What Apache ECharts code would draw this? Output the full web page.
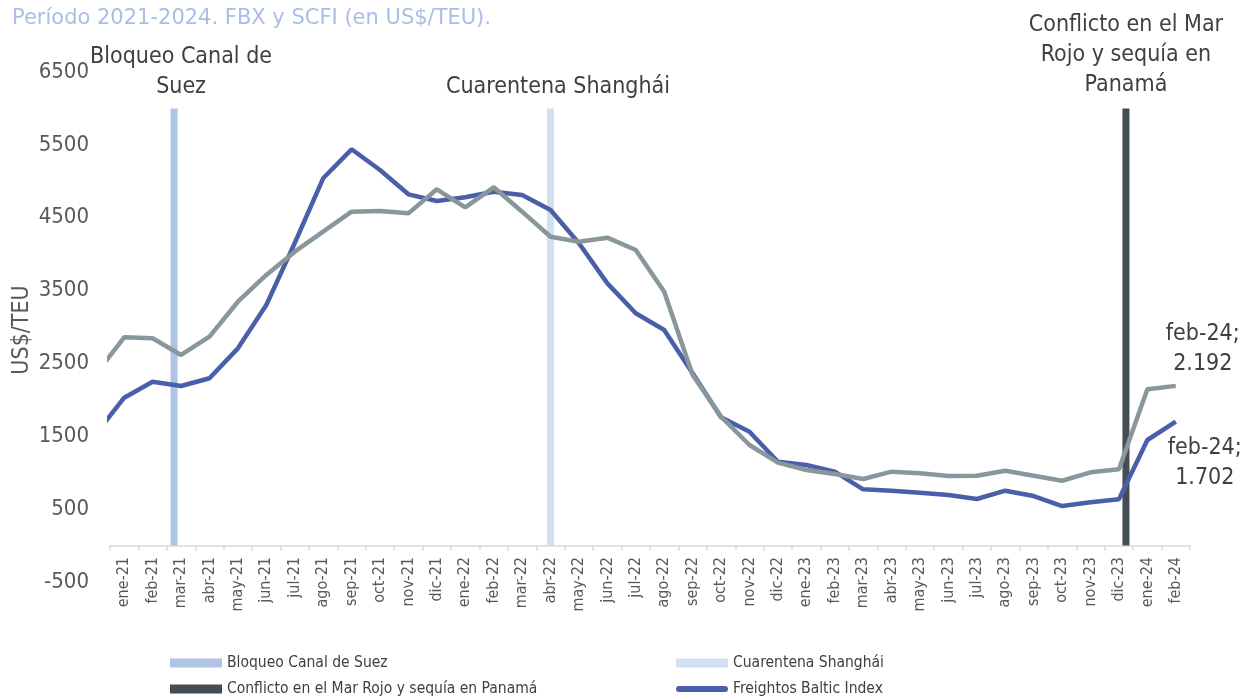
<!DOCTYPE html>
<html>
<head>
<meta charset="utf-8">
<script src="https://cdn.jsdelivr.net/npm/echarts@6/dist/echarts.min.js"></script>
<style>
html,body{margin:0;padding:0;background:#fff;}
#c{width:1244px;height:698px;}
</style>
</head>
<body>
<div id="c"></div>
<script>
// ---- data ----
const months = ['ene-21','feb-21','mar-21','abr-21','may-21','jun-21','jul-21','ago-21','sep-21','oct-21','nov-21','dic-21',
  'ene-22','feb-22','mar-22','abr-22','may-22','jun-22','jul-22','ago-22','sep-22','oct-22','nov-22','dic-22',
  'ene-23','feb-23','mar-23','abr-23','may-23','jun-23','jul-23','ago-23','sep-23','oct-23','nov-23','dic-23',
  'ene-24','feb-24'];
// Freightos Baltic Index (US$/TEU)
const fbx = [2030,2249,2190,2296,2707,3302,4153,5041,5439,5155,4821,4729,
  4780,4857,4812,4606,4149,3599,3188,2959,2364,1760,1563,1151,
  1106,1014,772,753,726,694,639,753,680,543,594,635,
  1449,1702];
// Shanghai Containerized Freight Index (US$/TEU)
const scfi = [2858,2845,2616,2867,3347,3714,4034,4308,4583,4592,4560,4890,
  4643,4917,4583,4239,4171,4226,4057,3485,2341,1769,1380,1138,
  1037,982,914,1014,992,955,959,1028,959,890,1005,1047,
  2145,2192];
// previous month (dic-20), only partly visible at the left edge
const fbxPrev = 1535;
const scfiPrev = 2353;
// event markers
const eventHeight = 6000;
const suezMonth = 'mar-21';
const shanghaiMonth = 'abr-22';
const conflictMonth = 'dic-23';
const yTicks = {min: -500, max: 6500, interval: 1000};
const yTitle = 'US$/TEU';

// ---- build ----
const FONT = "'DejaVu Sans Condensed','Liberation Sans Narrow',Roboto,sans-serif";
const TXT = '#404040';
function fmt(v){ return String(v).replace(/\B(?=(\d{3})+(?!\d))/g, '.'); }
function eventData(month, label, offset){
  return months.map(m => m === month ? {
    value: eventHeight,
    label: {show: true, position: 'top', formatter: label, offset: offset,
      fontFamily: FONT, fontSize: 23, lineHeight: 30, color: TXT, align: 'center'}
  } : '-');
}
function lineData(prev, arr, labelPos, offset){
  const d = [{value: [-1, prev]}];
  arr.forEach((v, i) => {
    if (i === arr.length - 1) {
      d.push({value: [i, v], label: {show: true, position: labelPos, offset: offset,
        formatter: months[i] + ';\n' + fmt(v), fontFamily: FONT, fontSize: 23, lineHeight: 30,
        color: TXT, align: 'center'}});
    } else d.push({value: [i, v]});
  });
  return d;
}
function legendItem(name, left, top, icon){
  return {
    left: left, top: top, padding: 0, orient: 'horizontal',
    itemWidth: 52, itemHeight: 9,
    textStyle: {fontFamily: FONT, fontSize: 15.5, lineHeight: 17, color: TXT},
    data: [{name: name, icon: icon}]
  };
}

const chart = echarts.init(document.getElementById('c'), null, {renderer: 'canvas'});
chart.setOption({
  animation: false,
  backgroundColor: '#fff',
  title: {
    text: 'Período 2021-2024. FBX y SCFI (en US$/TEU).',
    left: 7, top: 3,
    textStyle: {fontFamily: "'DejaVu Sans',sans-serif", fontSize: 21, fontWeight: 'normal', color: '#a9bde6'}
  },
  graphic: [{
    type: 'text', x: 22, y: 330, rotation: Math.PI / 2,
    style: {text: yTitle, align: 'center', verticalAlign: 'middle',
      font: "23px 'DejaVu Sans Condensed', sans-serif", fill: '#595959'}
  }],
  legend: [
    legendItem('Bloqueo Canal de Suez', 170, 654.5, 'rect'),
    legendItem('Cuarentena Shanghái', 676, 654.5, 'rect'),
    legendItem('Conflicto en el Mar Rojo y sequía en Panamá', 170, 680.5, 'rect'),
    legendItem('Freightos Baltic Index', 676, 680.5, 'path://M3,0 L49,0 A3,3 0 0 1 49,6 L3,6 A3,3 0 0 1 3,0 Z')
  ],
  grid: {left: 110, right: 54, top: 72, bottom: 116, containLabel: false, outerBoundsMode: 'none'},
  xAxis: [{
    type: 'category', data: months, boundaryGap: true,
    axisLine: {show: true, onZero: true, lineStyle: {color: '#d9d9d9', width: 1.5}},
    axisTick: {show: true, interval: 0, length: 5, lineStyle: {color: '#d9d9d9', width: 1.5}},
    axisLabel: {interval: 0, rotate: 90, margin: -25, fontFamily: FONT, fontSize: 16, color: '#595959'},
    splitLine: {show: false}
  }, {
    type: 'value', show: false, min: -0.5, max: months.length - 0.5
  }],
  yAxis: {
    type: 'value', min: yTicks.min, max: yTicks.max, interval: yTicks.interval,
    axisLine: {show: false}, axisTick: {show: false}, splitLine: {show: false},
    axisLabel: {margin: 21, fontFamily: FONT, fontSize: 22, color: '#595959', formatter: v => String(v)}
  },
  series: [{
    name: 'Bloqueo Canal de Suez', type: 'bar', xAxisIndex: 0, barWidth: 7, barGap: '0%',
    itemStyle: {color: '#aec3e6'}, z: 1,
    data: eventData(suezMonth, 'Bloqueo Canal de\nSuez', [7, -1])
  }, {
    name: 'Cuarentena Shanghái', type: 'bar', xAxisIndex: 0, barWidth: 7, barGap: '0%',
    itemStyle: {color: '#d3dff2'}, z: 1,
    data: eventData(shanghaiMonth, 'Cuarentena Shanghái', [7.5, -1])
  }, {
    name: 'Conflicto en el Mar Rojo y sequía en Panamá', type: 'bar', xAxisIndex: 0, barWidth: 7, barGap: '0%',
    itemStyle: {color: '#454d54'}, z: 1,
    data: eventData(conflictMonth, 'Conflicto en el Mar\nRojo y sequía en\nPanamá', [0, -3])
  }, {
    name: 'Freightos Baltic Index', type: 'line', xAxisIndex: 1,
    symbol: 'circle', symbolSize: 0.1, showSymbol: true, showAllSymbol: true,
    clip: true, z: 3,
    lineStyle: {color: '#4b5fa9', width: 4.5},
    itemStyle: {color: '#4b5fa9'},
    data: lineData(fbxPrev, fbx, 'bottom', [29, 6])
  }, {
    name: 'Shanghai Containerized Freight Index', type: 'line', xAxisIndex: 1,
    symbol: 'circle', symbolSize: 0.1, showSymbol: true, showAllSymbol: true,
    clip: true, z: 4,
    lineStyle: {color: '#88979c', width: 4.5},
    itemStyle: {color: '#88979c'},
    data: lineData(scfiPrev, scfi, 'top', [27, -2])
  }]
});
</script>
</body>
</html>
